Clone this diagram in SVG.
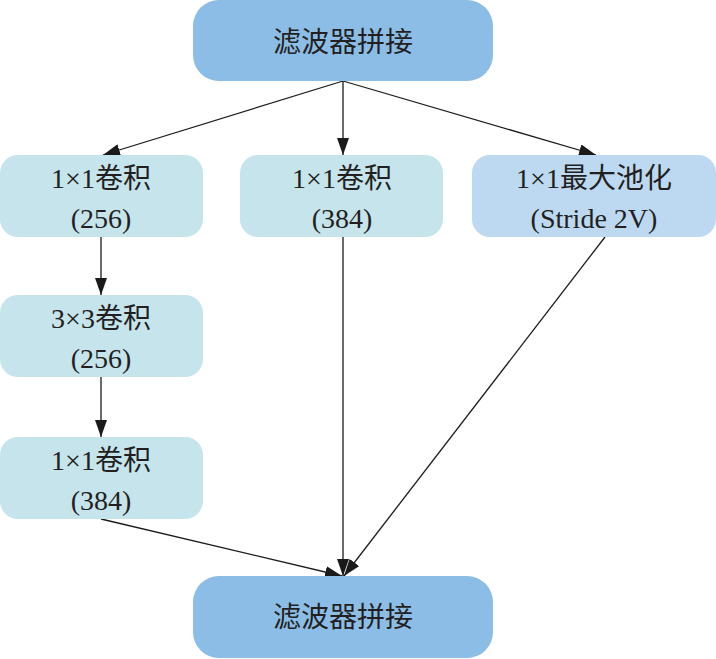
<svg xmlns="http://www.w3.org/2000/svg" width="716" height="659" viewBox="0 0 716 659">
<style>
.t{font-family:"Liberation Serif","Noto Sans CJK SC",serif;font-size:28px;fill:#231f20;text-anchor:middle}
.big{font-size:28px}
.dark{fill:#8bbde6}
.cyan{fill:#c6e4ec}
.blue{fill:#bcd9f1}
.e{stroke:#1a1a1a;stroke-width:1.3;fill:none;marker-end:url(#ah)}
</style>
<defs>
<marker id="ah" markerWidth="17" markerHeight="12" viewBox="0 0 17 12" refX="17" refY="6" orient="auto" markerUnits="userSpaceOnUse">
<path d="M0,0 L17,6 L0,12 Z" fill="#1a1a1a"/>
</marker>
</defs>
<rect width="716" height="659" fill="#ffffff"/>
<g id="connectors">
<line class="e" x1="343" y1="81" x2="103" y2="155"/>
<line class="e" x1="343" y1="81" x2="343" y2="155"/>
<line class="e" x1="343" y1="81" x2="596" y2="155"/>
<line class="e" x1="101" y1="237" x2="101" y2="295"/>
<line class="e" x1="101" y1="377" x2="101" y2="437"/>
<line class="e" x1="101" y1="519" x2="342" y2="576"/>
<line class="e" x1="343" y1="237" x2="343" y2="576"/>
<line class="e" x1="605" y1="237" x2="344" y2="576"/>
</g>
<g id="top">
<rect class="dark" x="193" y="0" width="300" height="81" rx="26"/>
<text class="t big" x="343" y="52">滤波器拼接</text>
</g>
<g id="left1">
<rect class="cyan" x="0" y="155" width="203" height="82" rx="18"/>
<text class="t" x="101" y="188">1×1卷积</text>
<text class="t" x="101" y="228">(256)</text>
</g>
<g id="mid">
<rect class="cyan" x="240" y="155" width="203" height="82" rx="18"/>
<text class="t" x="342" y="188">1×1卷积</text>
<text class="t" x="342" y="228">(384)</text>
</g>
<g id="right">
<rect class="blue" x="472" y="155" width="244" height="82" rx="18"/>
<text class="t" x="594" y="188">1×1最大池化</text>
<text class="t" x="594" y="228">(Stride 2V)</text>
</g>
<g id="left2">
<rect class="cyan" x="0" y="295" width="203" height="82" rx="18"/>
<text class="t" x="101" y="328">3×3卷积</text>
<text class="t" x="101" y="368">(256)</text>
</g>
<g id="left3">
<rect class="cyan" x="0" y="437" width="203" height="82" rx="18"/>
<text class="t" x="101" y="470">1×1卷积</text>
<text class="t" x="101" y="510">(384)</text>
</g>
<g id="bottom">
<rect class="dark" x="193" y="576" width="300" height="82" rx="26"/>
<text class="t big" x="343" y="627">滤波器拼接</text>
</g>
</svg>
